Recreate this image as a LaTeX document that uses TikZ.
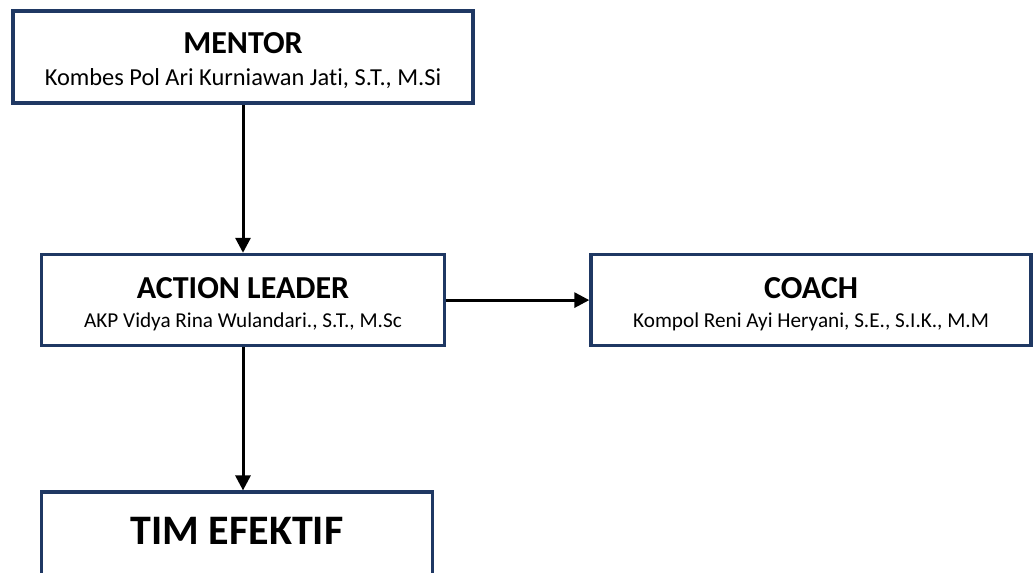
\documentclass[tikz,border=0pt]{standalone}
\usepackage{fontspec}
\setmainfont{Carlito}[Ligatures=NoCommon]
\usepackage{tikz}
\usetikzlibrary{positioning,arrows.meta}
\definecolor{boxclr}{rgb}{0.12, 0.22, 0.39}
\tikzset{ %
  ,>={Triangle[length=7.5pt,width=7.5pt]}
  ,role/.style={draw=boxclr, line width=1.8pt, fill=white, inner sep=0, align=center, minimum height=45.5pt, text height=36.25pt, text depth=9.25pt, font=\fontsize{10.6}{14.5}\selectfont}
  ,goal/.style={draw=boxclr, line width=1.8pt, fill=white, inner sep=0, minimum height=45.5pt, text height=26pt, text depth=19.5pt, font=\fontsize{21}{24}\selectfont\bfseries}
  ,flow/.style={line width=1.5pt, ->}
}
\newcommand{\rolename}[1]{{\fontsize{16}{14.5}\selectfont\bfseries #1}}

\begin{document}
\begin{tikzpicture}
      \useasboundingbox (0,0) rectangle (517.5pt,-286.5pt);
      \draw
      node[role, minimum width=230pt, minimum height=46pt, text height=37pt, text depth=9pt, font=\fontsize{12.2}{16}\selectfont] (mentor) at (121.5pt,-28.5pt) {\rolename{MENTOR}\\Kombes Pol Ari Kurniawan Jati, S.T., M.Si}
      node[role, minimum width=201.5pt, below=74pt of mentor] (leader) {\rolename{ACTION LEADER}\\AKP Vidya Rina Wulandari., S.T., M.Sc}
      node[role, minimum width=220pt, right=71.5pt of leader] (coach) {\rolename{COACH}\\Kompol Reni Ayi Heryani, S.E., S.I.K., M.M}
      node[goal, minimum width=195.5pt, below=71.5pt of leader.south west, anchor=north west] (tim) {TIM EFEKTIF};
      \draw [flow] (mentor) edge (leader) (leader) edge (coach);
      \draw [flow] (leader.south) -- (leader.south |- tim.north);
\end{tikzpicture}
\end{document}
